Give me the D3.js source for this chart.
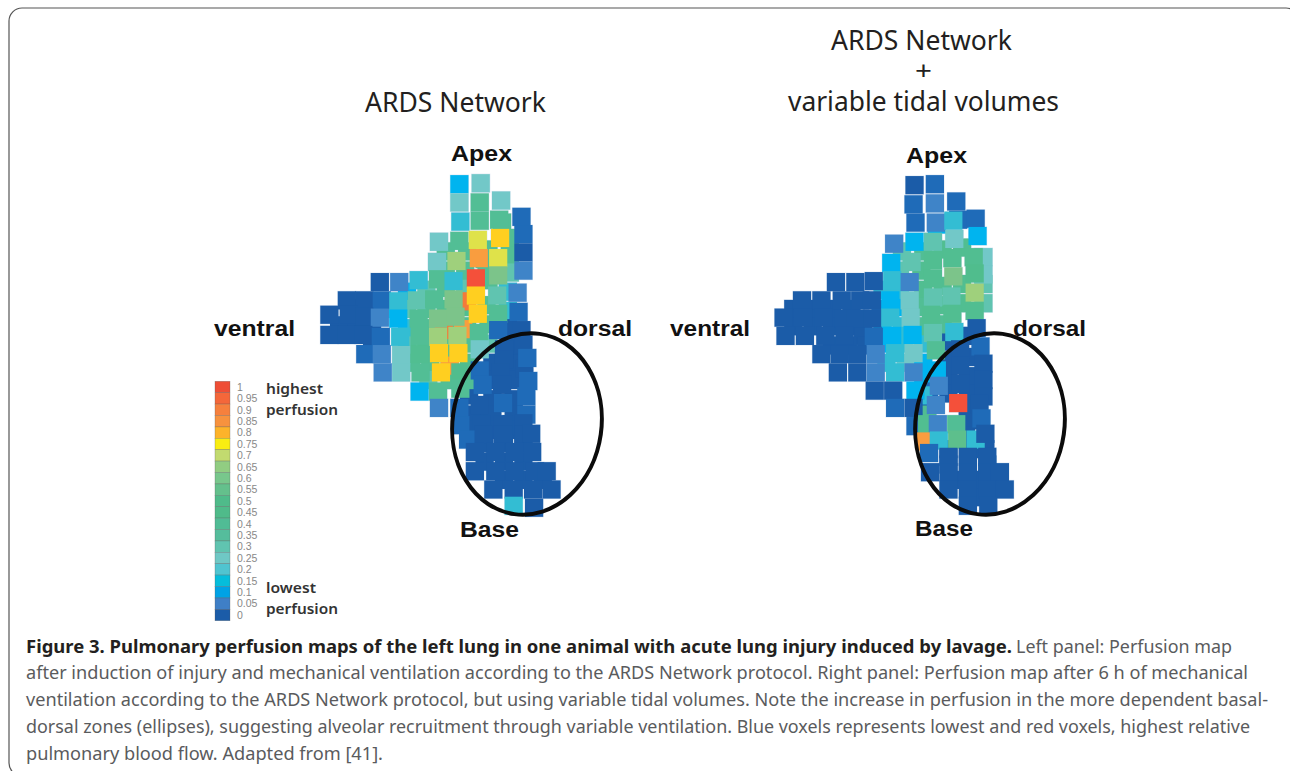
<!DOCTYPE html>
<html lang="en">
<head>
<meta charset="utf-8">
<title>Pulmonary perfusion maps</title>
<script src="https://d3js.org/d3.v7.min.js"></script>
<style>
  html, body { margin: 0; padding: 0; background: #fff; overflow: hidden; }
  svg { display: block; }
  .title { font-family: "Noto Sans", sans-serif; font-size: 27px; fill: #231f20; }
  .plus { font-size: 25px; }
  .side { font-family: "Liberation Sans", Arial, sans-serif; font-weight: bold; font-size: 22px; fill: #111; }
  .legend { font-family: "Noto Sans", sans-serif; font-weight: 600; font-size: 15px; fill: #333; }
  .cap { font-family: "Noto Sans", sans-serif; font-size: 18px; fill: #5a5b5d; }
  .cap.bold { font-weight: bold; fill: #231f20; }
  .ticks text { font-family: "Liberation Sans", Arial, sans-serif; font-size: 10.5px; fill: #888; }
</style>
</head>
<body>
<svg width="1290" height="771"></svg>
<script>
// colour key
const keyValues = [1, 0.95, 0.9, 0.85, 0.8, 0.75, 0.7, 0.65, 0.6, 0.55, 0.5, 0.45, 0.4, 0.35, 0.3, 0.25, 0.2, 0.15, 0.1, 0.05, 0];
const keyColors = ["#ee4e36", "#f4673a", "#f6803d", "#f7923e", "#fdb32a", "#f9ed12", "#c2da6f", "#91cd82", "#78c78c", "#64c08c", "#4fbb8a", "#4fbb8a", "#50bc95", "#55bd9c", "#60c4b0", "#6fc8c5", "#50c4d0", "#05bddb", "#00a2e5", "#3f7fc6", "#1b5ca8"];
// voxel colours as they show up in the maps
const voxelStops = [0, 0.05, 0.1, 0.15, 0.2, 0.3, 0.35, 0.4, 0.5, 0.55, 0.65, 0.7, 0.75, 0.8, 0.9, 0.95, 1];
const voxelColors = ["#1b5ca8", "#1f6bb8", "#3f84c8", "#00b4ef", "#33bdd3", "#72c8c8", "#60c4b0", "#52be95", "#50bd8d", "#5dbf8c", "#7cc48a", "#9fd07c", "#dfe24a", "#ffcf20", "#f99d3f", "#f47a3a", "#f4503a"];

// left lung, voxel units, one line per row: column, row, perfusion
const leftCol = [
  7.7, 8.8,
  7.7, 8.75, 9.85,
  7.75, 8.75, 9.75, 10.9,
  6.65, 7.7, 8.65, 9.8, 11,
  6.55, 7.55, 8.7, 9.7, 11,
  3.6, 4.6, 5.6, 6.6, 7.4, 8.55, 9.7, 11,
  1.9, 2.8, 3.7, 4.55, 5.5, 6.4, 7.4, 8.55, 9.65, 10.7,
  1, 2, 2.8, 3.6, 4.55, 5.6, 6.6, 7.5, 8.65, 9.7, 10.75,
  1, 1.9, 2.75, 3.65, 4.65, 5.65, 6.6, 7.6, 8.7, 9.7, 10.9,
  2.85, 3.7, 4.7, 5.65, 6.65, 7.65, 8.75, 10, 11, 10, 11.2,
  3.75, 4.7, 5.7, 6.75, 7.75, 8.75, 9.8, 11.25,
  5.65, 6.6, 7.75, 8.9, 9.9, 11.15,
  6.65, 7.7, 8.75, 9.95, 11.15,
  7.75, 8.85, 9.95, 11,
  8.15, 8.95, 9.95, 11, 11.4, 8.5, 9.55, 10.55, 11.45,
  8.5, 9.55, 10.55, 11.6, 12.2,
  9.45, 10.5, 11.5, 12.45,
  10.5, 11.55
];
const leftRow = [
  1, 0.95,
  1.95, 1.95, 1.85,
  2.95, 2.9, 2.85, 2.7,
  4, 3.95, 3.9, 3.8, 3.6,
  5.05, 5, 4.85, 4.85, 4.55,
  6.1, 6.1, 6, 5.95, 6.05, 5.9, 5.75, 5.5,
  7.05, 7.05, 7.05, 7.1, 7.05, 7, 7, 6.8, 6.8, 6.65,
  7.8, 7.8, 7.9, 7.95, 8, 8, 8, 7.9, 7.75, 7.75, 7.65,
  8.85, 8.85, 8.85, 8.95, 8.95, 8.9, 8.95, 8.9, 8.75, 8.6, 8.6,
  9.85, 9.85, 9.9, 9.85, 9.8, 9.8, 9.6, 9.6, 9.35, 10.15, 10.05,
  10.8, 10.8, 10.8, 10.8, 10.8, 10.7, 10.8, 11.25,
  11.8, 11.8, 11.65, 11.45, 11.45, 12.05,
  12.65, 12.65, 12.5, 12.4, 13,
  13.55, 13.5, 13.5, 13.45,
  14.3, 14.05, 14.05, 14.05, 14, 14.95, 14.95, 14.95, 14.95,
  15.95, 15.95, 15.95, 15.95, 15.95,
  16.9, 16.9, 16.9, 16.9,
  17.75, 17.85
];
const leftPerf = [
  0.15, 0.3,
  0.3, 0.4, 0.3,
  0.2, 0.4, 0.4, 0.05,
  0.3, 0.4, 0.75, 0.8, 0.05,
  0.3, 0.7, 0.9, 0.75, 0,
  0, 0.1, 0.2, 0.4, 0.2, 1, 0.65, 0.1,
  0, 0, 0.05, 0.2, 0.35, 0.4, 0.65, 0.8, 0.35, 0.1,
  0, 0, 0, 0.1, 0.15, 0.4, 0.65, 0.65, 0.8, 0.4, 0.05,
  0, 0, 0, 0.05, 0.2, 0.4, 0.7, 0.7, 0.4, 0.05, 0,
  0.05, 0.1, 0.3, 0.45, 0.8, 0.8, 0.3, 0, 0, 0, 0.05,
  0.1, 0.3, 0.4, 0.8, 0.5, 0.05, 0, 0.05,
  0.15, 0.4, 0.4, 0.05, 0, 0.05,
  0.1, 0.05, 0, 0.05, 0.05,
  0.05, 0, 0, 0,
  0.05, 0, 0, 0, 0, 0, 0, 0, 0,
  0, 0, 0, 0, 0,
  0, 0, 0, 0,
  0.2, 0
];
// voxels deeper in the lung that show between the front ones
const leftBackCol = [
  1.5, 2.4, 3.2, 2.4, 3.2, 3.2, 8.2, 8.9, 10.4,
  9.4, 10.5, 9.4, 10.5, 9.4, 10.5, 8.3, 9.4, 10.5, 8.3, 9.4, 10.5, 9, 10, 11, 9, 10, 11, 10, 11, 12, 10.5, 11.05,
  9.9, 9, 9.2, 8, 7, 6, 5, 4.1, 5, 6, 7, 8, 5, 6, 7, 8.1, 9.1, 9.2, 9.2, 5, 6, 7, 8.2, 5.2, 6.2, 7.2, 8.2, 7.2, 6.1, 8.2, 7, 8.1, 9.2, 10.3, 10.3, 10.3, 7, 8, 9.1, 10.2, 10.2, 10.2,
  8.1, 6.9, 7.9, 7.2
];
const leftBackRow = [
  8.35, 8.35, 8.35, 7.45, 7.45, 9.4, 12, 13.3, 13.5,
  10.3, 10.3, 11.2, 11.2, 12.2, 12.2, 13, 13, 13, 13.8, 13.8, 13.8, 14.5, 14.5, 14.5, 15.45, 15.45, 15.45, 16.4, 16.4, 16.4, 9.4, 10.6,
  3, 4.9, 6, 6.4, 6.4, 6.5, 6.6, 7.5, 7.5, 7.5, 7.5, 7.4, 8.5, 8.5, 8.5, 8.4, 7.3, 8.3, 9.3, 9.4, 9.4, 9.4, 9.3, 10.3, 10.3, 10.3, 10.3, 11.2, 11.2, 11.2, 4.5, 4.5, 4.4, 3.8, 4.7, 5.6, 5.5, 5.5, 5.4, 6.6, 7.6, 8.5,
  7.1, 8.6, 8.55, 10.45
];
const leftBackPerf = [
  0, 0, 0, 0, 0, 0, 0, 0, 0,
  0, 0, 0, 0, 0, 0, 0, 0, 0, 0, 0, 0, 0, 0, 0, 0, 0, 0, 0, 0, 0, 0, 0,
  0.4, 0.4, 0.4, 0.35, 0.4, 0.35, 0.15, 0.2, 0.35, 0.4, 0.45, 0.45, 0.2, 0.4, 0.45, 0.4, 0.4, 0.4, 0.35, 0.35, 0.4, 0.4, 0.4, 0.4, 0.4, 0.4, 0.45, 0.4, 0.35, 0.4, 0.4, 0.4, 0.4, 0.4, 0.4, 0.35, 0.4, 0.4, 0.4, 0.2, 0.2, 0,
  0.95, 0.95, 0.9, 0.9
];

// right lung
const rightCol = [
  7.45, 8.5,
  7.4, 8.5, 9.6,
  7.5, 8.55, 9.45, 10.6,
  6.4, 7.45, 8.4, 9.5, 10.7,
  6.25, 7.3, 8.4, 9.4, 10.5,
  3.4, 4.4, 5.35, 6.3, 7.2, 8.4, 9.45, 10.55,
  1.65, 2.65, 3.7, 4.65, 5.25, 6.2, 7.2, 8.4, 9.35, 10.55,
  0.7, 1.7, 2.75, 3.8, 4.4, 5.3, 6.2, 7.25, 8.3, 9.4, 10.55,
  0.8, 1.8, 2.85, 3.85, 5.35, 6.3, 7.35, 8.4, 9.5, 10.65,
  2.65, 3.6, 4.5, 5.45, 6.45, 7.4, 8.55, 9.8, 10.85,
  3.5, 4.5, 5.45, 6.45, 7.4, 8.6, 9.8, 11,
  5.4, 6.35, 7.5, 8.7, 9.8, 11, 11,
  6.45, 7.4, 8.55, 9.7, 10.8,
  7.5, 8.1, 8.65, 9.6, 10.9,
  8, 8.7, 9.65, 10.6, 11.1,
  8.2, 9.2, 10.2, 11.2,
  8.25, 9.2, 10.2, 11.2, 11.85,
  9.2, 10.2, 11.2, 12.1,
  10.2, 11.25
];
const rightRow = [
  1.05, 1,
  2.05, 2, 1.9,
  3, 3, 2.9, 2.8,
  4.1, 4, 4, 3.85, 3.7,
  5.1, 5.05, 4.95, 4.85, 4.8,
  6.1, 6.1, 6.05, 6, 6.1, 5.9, 5.8, 5.65,
  7.05, 7.05, 7.05, 7.05, 7.05, 7.05, 7.05, 6.9, 6.85, 6.65,
  7.95, 7.95, 7.95, 8, 8, 8, 7.95, 7.95, 7.8, 7.75, 7.6,
  8.9, 8.9, 8.9, 8.9, 8.95, 8.9, 8.85, 8.75, 8.7, 8.5,
  9.85, 9.85, 9.85, 9.85, 9.8, 9.8, 9.65, 9.6, 9.45,
  10.8, 10.8, 10.8, 10.8, 10.8, 10.7, 10.45, 10.35,
  11.75, 11.75, 11.75, 11.5, 11.4, 11.2, 12.05,
  12.65, 12.65, 12.5, 12.4, 12.45,
  13.6, 13.5, 13.5, 13.5, 13.2,
  14.4, 14.35, 14.3, 14.3, 14,
  15, 15.2, 15.2, 15.2,
  16, 16, 16, 16, 16,
  16.9, 16.9, 16.9, 16.9,
  17.75, 17.75
];
const rightPerf = [
  0, 0.05,
  0.05, 0.1, 0.05,
  0.05, 0.1, 0.2, 0.05,
  0.1, 0.15, 0.35, 0.3, 0.15,
  0.15, 0.35, 0.45, 0.45, 0.45,
  0, 0, 0, 0.2, 0.1, 0.45, 0.65, 0.5,
  0, 0, 0, 0, 0, 0.15, 0.3, 0.35, 0.35, 0.7,
  0, 0, 0, 0, 0, 0, 0.2, 0.3, 0.45, 0.45, 0.45,
  0, 0, 0, 0, 0.05, 0.15, 0.15, 0.35, 0.2, 0,
  0, 0, 0, 0.1, 0.2, 0.3, 0.4, 0, 0.05,
  0, 0, 0.1, 0.2, 0.1, 0.15, 0, 0,
  0, 0, 0.15, 0.1, 0, 0, 0,
  0.05, 0, 0.1, 1, 0,
  0.05, 0.45, 0.1, 0.4, 0.05,
  0.9, 0.2, 0.55, 0.2, 0,
  0.05, 0, 0, 0,
  0, 0, 0, 0, 0,
  0, 0, 0, 0,
  0, 0
];
const rightBackCol = [
  1.2, 2.2, 3.2, 4.2, 1.2, 2.2, 3.2, 4.2, 4.8, 3.2, 4, 5,
  9.2, 10.2, 9.2, 10.4, 10.2, 9.2, 9.2, 10.2, 10.2, 8.1, 10.2, 10.1, 9.2, 10.2, 11.1, 9.2, 10.2, 11.2, 9.7, 10.7, 11.7, 10.7,
  5.7, 6.7, 5.8, 6.8, 5.9, 6.9, 7.9, 6, 7, 7.9, 5.8, 6.7, 6.7, 7.8, 6.8, 7.9, 8.9, 9.9, 7.9, 8.9, 9.9, 11, 11, 11, 11, 7.8, 8.9, 9.9, 8.9, 8, 7.9, 8.2, 7.7, 8.1, 7.9, 9.7, 8.6
];
const rightBackRow = [
  7.5, 7.5, 7.5, 7.5, 8.4, 8.4, 8.4, 8.4, 8.9, 9.4, 9.4, 9.4,
  9.2, 8.9, 10.2, 10, 11, 11, 11.9, 11.9, 12.7, 12.6, 13.3, 14.1, 14.8, 14.8, 14.8, 15.6, 15.6, 15.6, 16.4, 16.4, 16.4, 17.3,
  7.5, 7.4, 8.4, 8.4, 9.3, 9.3, 9.3, 10.3, 10.3, 10.3, 6.5, 6.5, 5.5, 5.5, 4.5, 4.5, 4.4, 4.3, 6.5, 6.3, 6.2, 7.2, 6.2, 4.8, 5.7, 7.4, 7.3, 7.2, 8.3, 8.4, 11, 11.8, 13.1, 13, 12, 2.85, 3.1
];
const rightBackPerf = [
  0, 0, 0, 0, 0, 0, 0, 0, 0, 0, 0, 0,
  0, 0, 0, 0, 0, 0, 0, 0, 0, 0, 0, 0, 0, 0, 0, 0, 0, 0, 0, 0, 0, 0,
  0.05, 0.15, 0.15, 0.2, 0.15, 0.2, 0.2, 0.2, 0.3, 0.15, 0.2, 0.2, 0.35, 0.45, 0.35, 0.4, 0.45, 0.45, 0.45, 0.45, 0.45, 0.35, 0.35, 0.3, 0.3, 0.4, 0.45, 0.45, 0.4, 0.4, 0.15, 0.05, 0.45, 0.45, 0.2, 0.05, 0.15
];

const titleLeft = ["ARDS Network"];
const titleRight = ["ARDS Network", "+", "variable tidal volumes"];
const keyHigh = ["highest", "perfusion"];
const keyLow = ["lowest", "perfusion"];
const captionBold = "Figure 3. Pulmonary perfusion maps of the left lung in one animal with acute lung injury induced by lavage.";
const captionLines = [
  "Left panel: Perfusion map",
  "after induction of injury and mechanical ventilation according to the ARDS Network protocol. Right panel: Perfusion map after 6 h of mechanical",
  "ventilation according to the ARDS Network protocol, but using variable tidal volumes. Note the increase in perfusion in the more dependent basal-",
  "dorsal zones (ellipses), suggesting alveolar recruitment through variable ventilation. Blue voxels represents lowest and red voxels, highest relative",
  "pulmonary blood flow. Adapted from [41]."
];

const svg = d3.select("svg");

//frame round the figure, runs off the page on the right and bottom
svg.append("rect")
   .attr("x", 9).attr("y", 8)
   .attr("width", 1290).attr("height", 768)
   .attr("rx", 13)
   .attr("fill", "none")
   .attr("stroke", "#555")
   .attr("stroke-width", 1.2);

// scales: voxel units to pixels
const voxelSize = 18.2;
const xScale = d3.scaleLinear().domain([0, 1]).range([0, 19.4]);
const yScale = d3.scaleLinear().domain([0, 1]).range([0, 19.2]);
const color = d3.scaleLinear().domain(voxelStops).range(voxelColors);

function drawLung(originX, back, front) {
  const g = svg.append("g").attr("transform", "translate(" + [originX, 165] + ")");
  const toRows = a => a.col.map((c, i) => ({col: c, row: a.row[i], perf: a.perf[i]}));
  const voxels = toRows(back).concat(toRows(front));
  //first pass is only the pale outline, second pass covers it where voxels overlap
  g.selectAll("rect.edge")
   .data(voxels)
   .enter().append("rect")
   .attr("class", "edge")
   .attr("x", d => xScale(d.col) - voxelSize / 2)
   .attr("y", d => yScale(d.row) - voxelSize / 2)
   .attr("width", voxelSize).attr("height", voxelSize)
   .attr("fill", "#fff")
   .attr("stroke", "#dbe6f2")
   .attr("stroke-width", 1);
  g.selectAll("rect.voxel")
   .data(voxels)
   .enter().append("rect")
   .attr("class", "voxel")
   .attr("x", d => xScale(d.col) - voxelSize / 2)
   .attr("y", d => yScale(d.row) - voxelSize / 2)
   .attr("width", voxelSize).attr("height", voxelSize)
   .attr("fill", d => color(d.perf));
}

drawLung(310,
  {col: leftBackCol, row: leftBackRow, perf: leftBackPerf},
  {col: leftCol, row: leftRow, perf: leftPerf});
drawLung(770,
  {col: rightBackCol, row: rightBackRow, perf: rightBackPerf},
  {col: rightCol, row: rightRow, perf: rightPerf});

// ellipses
[527, 990].forEach(cx => {
  svg.append("ellipse")
     .attr("cx", cx).attr("cy", 424)
     .attr("rx", 74.5).attr("ry", 91)
     .attr("transform", "rotate(8 " + cx + " 424)")
     .attr("fill", "none")
     .attr("stroke", "#0b0b0b")
     .attr("stroke-width", 4);
});

// titles
function title(str, x, y, len, extra) {
  svg.append("text").attr("class", "title " + (extra || ""))
     .attr("x", x).attr("y", y)
     .attr("textLength", len)
     .attr("lengthAdjust", "spacingAndGlyphs")
     .text(str);
}
title(titleLeft[0], 365, 112, 181);
title(titleRight[0], 831, 50, 181);
title(titleRight[1], 915, 80, 17, "plus");
title(titleRight[2], 788, 111, 271);

// side labels
const sideLabels = [
  ["Apex", 451, 161, 61], ["ventral", 214, 336, 81], ["dorsal", 558, 336, 74], ["Base", 460, 537, 59],
  ["Apex", 906, 163, 61], ["ventral", 670, 336, 80], ["dorsal", 1013, 336, 73], ["Base", 915, 536, 58]
];
sideLabels.forEach(s => {
  svg.append("text").attr("class", "side")
     .attr("x", s[1]).attr("y", s[2])
     .attr("textLength", s[3])
     .attr("lengthAdjust", "spacingAndGlyphs")
     .text(s[0]);
});

// colour key
const keyScale = d3.scaleLinear().domain([0, 1]).range([615, 387]);
const key = svg.append("g");
key.selectAll("rect")
   .data(keyValues)
   .enter().append("rect")
   .attr("x", 215).attr("width", 15)
   .attr("y", d => keyScale(d) - 5.7)
   .attr("height", 11.4)
   .attr("fill", (d, i) => keyColors[i])
   .attr("stroke", "#555")
   .attr("stroke-opacity", 0.45)
   .attr("stroke-width", 0.6);
svg.append("g")
   .attr("class", "ticks")
   .attr("transform", "translate(231,0)")
   .call(d3.axisRight(keyScale).tickValues(keyValues).tickSize(0).tickPadding(6).tickFormat(d3.format("~g")))
   .call(g => g.select(".domain").remove());

keyHigh.forEach((t, i) => svg.append("text").attr("class", "legend").attr("x", 266).attr("y", 394 + i * 21)
   .attr("textLength", i ? 72 : 57).attr("lengthAdjust", "spacingAndGlyphs").text(t));
keyLow.forEach((t, i) => svg.append("text").attr("class", "legend").attr("x", 266).attr("y", 593 + i * 21)
   .attr("textLength", i ? 72 : 50).attr("lengthAdjust", "spacingAndGlyphs").text(t));

// caption
const capEnds = [1232, 1248, 1268, 1250, 383];
const capY = d3.scaleLinear().domain([0, 4]).range([652.5, 760]);
svg.append("text").attr("class", "cap bold")
   .attr("x", 26).attr("y", capY(0))
   .attr("textLength", 986)
   .attr("lengthAdjust", "spacingAndGlyphs")
   .text(captionBold);
captionLines.forEach((t, i) => {
  const x0 = i === 0 ? 1016 : 26;
  svg.append("text").attr("class", "cap")
     .attr("x", x0).attr("y", capY(i))
     .attr("textLength", capEnds[i] - x0)
     .attr("lengthAdjust", "spacingAndGlyphs")
     .text(t);
});
</script>
</body>
</html>
